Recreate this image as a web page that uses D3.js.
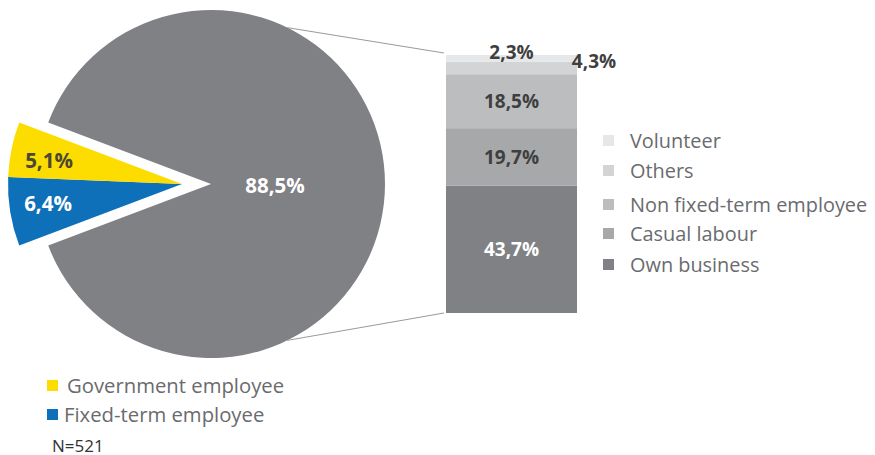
<!DOCTYPE html>
<html>
<head>
<meta charset="utf-8">
<script src="https://cdn.jsdelivr.net/npm/d3@7/dist/d3.min.js"></script>
<style>
  html, body { margin: 0; padding: 0; background: #fff; }
  svg { display: block; font-family: "Open Sans", "Noto Sans", sans-serif; }
</style>
</head>
<body>
<svg id="chart" width="875" height="455"></svg>
<script>
// Employment type shares (%), N=521
const pieCategories = ["Fixed-term employee", "Government employee", "Other employment"];
const pieValues = [6.4, 5.1, 88.5];
const pieColors = ["#0e70b8", "#fddc00", "#808185"];
const pieLabelColors = ["#ffffff", "#4a4835", "#ffffff"];

// Breakdown of the "other employment" share
const barCategories = ["Own business", "Casual labour", "Non fixed-term employee", "Others", "Volunteer"];
const barValues = [43.7, 19.7, 18.5, 4.3, 2.3];
const barColors = ["#808185", "#a7a8aa", "#bcbdbf", "#d3d4d6", "#e6e7e8"];
const barLabelColors = ["#ffffff", "#3f3f3f", "#3f3f3f", "#3f3f3f", "#3f3f3f"];

const legendRightOrder = ["Volunteer", "Others", "Non fixed-term employee", "Casual labour", "Own business"];
const legendBottom = ["Government employee", "Fixed-term employee"];
const sampleNote = "N=521";

const fmtLocale = d3.formatLocale({ decimal: ",", thousands: ".", grouping: [3], currency: ["", ""] });
const pct = v => fmtLocale.format(".1f")(v) + "%";

const svg = d3.select("#chart");

// ---- Pie ----
const cx = 211, cy = 184, R = 174, explode = 29;
const smallShare = (pieValues[0] + pieValues[1]) / d3.sum(pieValues);
const start = 1.5 * Math.PI - smallShare * Math.PI;
const pie = d3.pie().sort(null).startAngle(start).endAngle(start + 2 * Math.PI);
const arcs = pie(pieValues);
const arc = d3.arc().innerRadius(0).outerRadius(R);

const pieG = svg.append("g").attr("transform", `translate(${cx},${cy})`);
arcs.forEach((a, i) => {
  // the two small slices are pulled out together to the left
  const dx = i < 2 ? -explode : 0;
  pieG.append("path").attr("d", arc(a)).attr("fill", pieColors[i])
    .attr("transform", `translate(${dx},0)`);
});

// pie labels
arcs.forEach((a, i) => {
  let x, y;
  if (i < 2) {
    const mid = (a.startAngle + a.endAngle) / 2;
    x = -explode + Math.sin(mid) * R * 0.78;
    y = -Math.cos(mid) * R * 0.78 * 0.9;
  } else {
    x = 64; y = 1;
  }
  pieG.append("text")
    .attr("x", x).attr("y", y)
    .attr("text-anchor", "middle").attr("dominant-baseline", "central")
    .attr("font-size", 20.5).attr("font-weight", 700)
    .attr("fill", pieLabelColors[i])
    .text(pct(pieValues[i]));
});

// ---- Stacked bar ----
const barX0 = 446, barW = 131;
const total = d3.sum(barValues);
const y = d3.scaleLinear().domain([0, total]).range([313, 55]);
const cum = d3.cumsum(barValues);
const segs = barValues.map((v, i) => ({ v, i, y0: cum[i] - v, y1: cum[i] }));

svg.append("g").selectAll("rect").data(segs).join("rect")
  .attr("x", barX0).attr("width", barW)
  .attr("y", d => y(d.y1)).attr("height", d => y(d.y0) - y(d.y1))
  .attr("fill", d => barColors[d.i]);

// connector lines from the pie to the bar
const conAngle = 26 * Math.PI / 180;
const px = cx + R * Math.sin(conAngle);
const pyTop = cy - R * Math.cos(conAngle), pyBot = cy + R * Math.cos(conAngle);
svg.append("line").attr("x1", px).attr("y1", pyTop).attr("x2", barX0 - 2).attr("y2", y(total) - 2)
  .attr("stroke", "#9a9a9c").attr("stroke-width", 1);
svg.append("line").attr("x1", px).attr("y1", pyBot).attr("x2", barX0 - 2).attr("y2", y(0))
  .attr("stroke", "#9a9a9c").attr("stroke-width", 1);

// bar labels
segs.forEach(d => {
  let lx = barX0 + barW / 2, ly = (y(d.y0) + y(d.y1)) / 2;
  if (d.i === 4) { ly = y(d.y1) - 3; }
  if (d.i === 3) { lx = barX0 + barW + 17; ly = y(d.y1) - 1; }
  svg.append("text")
    .attr("x", lx).attr("y", ly)
    .attr("text-anchor", "middle").attr("dominant-baseline", "central")
    .attr("font-size", 19).attr("font-weight", 700)
    .attr("fill", barLabelColors[d.i])
    .text(pct(d.v));
});

// ---- Right legend ----
const legR = svg.append("g");
const legRY = [140, 170, 204, 233, 264];
legendRightOrder.forEach((name, k) => {
  const i = barCategories.indexOf(name);
  legR.append("rect").attr("x", 603).attr("y", legRY[k] - 5).attr("width", 11).attr("height", 11)
    .attr("fill", barColors[i]);
  legR.append("text").attr("x", 630).attr("y", legRY[k]).attr("dominant-baseline", "central")
    .attr("font-size", 19.9).attr("fill", "#6a6b6e").text(name);
});

// ---- Bottom legend ----
const legB = svg.append("g");
const legBY = [385, 414];
legendBottom.forEach((name, k) => {
  const i = pieCategories.indexOf(name);
  legB.append("rect").attr("x", 47).attr("y", legBY[k] - 5).attr("width", 11).attr("height", 11)
    .attr("fill", pieColors[i]);
  legB.append("text").attr("x", k === 0 ? 67 : 64).attr("y", legBY[k]).attr("dominant-baseline", "central")
    .attr("font-size", 20.3).attr("fill", "#6a6b6e").text(name);
});
svg.append("text").attr("x", 52).attr("y", 445).attr("dominant-baseline", "central")
  .attr("font-size", 17).attr("fill", "#333").text(sampleNote);
</script>
</body>
</html>
